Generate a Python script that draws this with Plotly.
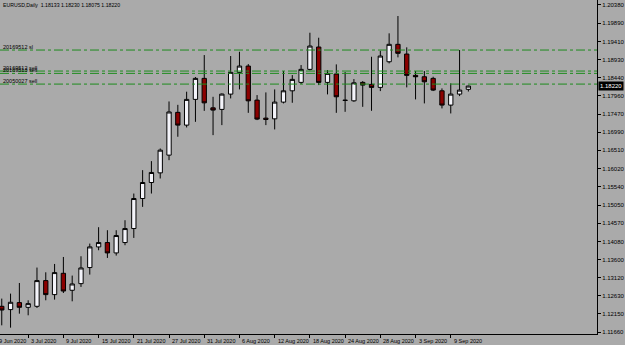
import plotly.graph_objects as go

# ---- data (EURUSD daily) ----
dates = ["30 Jun", "1 Jul", "2 Jul", "3 Jul", "6 Jul", "7 Jul", "8 Jul", "9 Jul", "10 Jul",
         "13 Jul", "14 Jul", "15 Jul", "16 Jul", "17 Jul", "20 Jul", "21 Jul", "22 Jul", "23 Jul",
         "24 Jul", "27 Jul", "28 Jul", "29 Jul", "30 Jul", "31 Jul", "3 Aug", "4 Aug", "5 Aug",
         "6 Aug", "7 Aug", "10 Aug", "11 Aug", "12 Aug", "13 Aug", "14 Aug", "17 Aug", "18 Aug",
         "19 Aug", "20 Aug", "21 Aug", "24 Aug", "25 Aug", "26 Aug", "27 Aug", "28 Aug", "31 Aug",
         "1 Sep", "2 Sep", "3 Sep", "4 Sep", "7 Sep", "8 Sep", "9 Sep", "10 Sep", "11 Sep"]
opens = [1.12353, 1.12265, 1.12451, 1.12326, 1.12353, 1.13038, 1.12664, 1.13232, 1.12780,
         1.12957, 1.13385, 1.13935, 1.14051, 1.13775, 1.14051, 1.14424, 1.15224, 1.15651,
         1.15908, 1.16380, 1.17520, 1.17180, 1.17865, 1.18425, 1.17640, 1.17598, 1.18006,
         1.18585, 1.18753, 1.17846, 1.17366, 1.17347, 1.17793, 1.18094, 1.18318, 1.18665,
         1.19260, 1.18318, 1.18540, 1.17845, 1.17827, 1.18318, 1.18265, 1.18185, 1.18868,
         1.19332, 1.19073, 1.18505, 1.18468, 1.18425, 1.18094, 1.17713, 1.18006, 1.18133]
highs = [1.12558, 1.12691, 1.12974, 1.12513, 1.13385, 1.13259, 1.13481, 1.13667, 1.13171,
         1.13686, 1.14024, 1.14460, 1.14380, 1.14380, 1.14646, 1.15357, 1.15980, 1.16220,
         1.16558, 1.17810, 1.17720, 1.18070, 1.18460, 1.19046, 1.17934, 1.18024, 1.19020,
         1.19134, 1.18806, 1.17980, 1.18051, 1.18131, 1.18620, 1.18513, 1.18780, 1.19641,
         1.19508, 1.18646, 1.18798, 1.18593, 1.18406, 1.18353, 1.19001, 1.19161, 1.19625,
         1.20086, 1.19252, 1.18620, 1.18620, 1.18469, 1.18158, 1.18291, 1.19180, 1.18230]
lows = [1.11846, 1.11784, 1.12157, 1.12113, 1.12308, 1.12513, 1.12531, 1.12707, 1.12486,
        1.12869, 1.13198, 1.13846, 1.13641, 1.13704, 1.13980, 1.14175, 1.15002, 1.15357,
        1.15758, 1.16246, 1.16870, 1.17118, 1.17267, 1.17560, 1.16913, 1.17180, 1.17891,
        1.18131, 1.17507, 1.17313, 1.17180, 1.17065, 1.17758, 1.17775, 1.18273, 1.18638,
        1.18246, 1.17998, 1.17507, 1.17534, 1.17801, 1.17667, 1.17561, 1.18086, 1.18825,
        1.18985, 1.18185, 1.17865, 1.17758, 1.18087, 1.17625, 1.17491, 1.17953, 1.18075]
closes = [1.12254, 1.12460, 1.12326, 1.12424, 1.13038, 1.12664, 1.13251, 1.12760, 1.12948,
          1.13374, 1.13935, 1.14051, 1.13775, 1.14238, 1.14424, 1.15224, 1.15651, 1.15918,
          1.16513, 1.17530, 1.17180, 1.17865, 1.18425, 1.17773, 1.17580, 1.18006, 1.18585,
          1.18753, 1.17827, 1.17340, 1.17331, 1.17793, 1.18094, 1.18398, 1.18665, 1.19286,
          1.18318, 1.18558, 1.17935, 1.17838, 1.18307, 1.18246, 1.18185, 1.19020, 1.19332,
          1.19092, 1.18505, 1.18468, 1.18334, 1.18113, 1.17713, 1.18006, 1.18113, 1.18220]

# date labels: bar slot (29 Jun = slot 0, first drawn bar 30 Jun = slot 1)
label_slots = [0, 4, 8, 12, 16, 20, 24, 28, 32, 36, 40, 44, 48, 52]
label_texts = ["29 Jun 2020", "3 Jul 2020", "9 Jul 2020", "15 Jul 2020", "21 Jul 2020",
               "27 Jul 2020", "31 Jul 2020", "6 Aug 2020", "12 Aug 2020", "18 Aug 2020",
               "24 Aug 2020", "28 Aug 2020", "3 Sep 2020", "9 Sep 2020"]

price_ticks = [1.20380, 1.19890, 1.19410, 1.18930, 1.18440, 1.17960, 1.17470, 1.16990,
               1.16510, 1.16020, 1.15540, 1.15050, 1.14570, 1.14080, 1.13600, 1.13120,
               1.12630, 1.12150, 1.11660]

order_levels = [1.19180, 1.18620, 1.18558, 1.18273]
order_names = ["20169512 sl", "20169512 sell", "20169513 sell", "20050027 sell"]

title_text = "EURUSD,Daily  1.18133 1.18230 1.18075 1.18220"

# ---- figure ----
FONT = "Liberation Sans"
BG = "#AAAAAA"
xs = list(range(1, len(dates) + 1))
x_range = [0.801, 68.61]
y_range = [1.11615, 1.20513]

fig = go.Figure()
fig.add_trace(go.Candlestick(
    x=xs, open=opens, high=highs, low=lows, close=closes,
    text=dates, hoverinfo="text",
    increasing=dict(line=dict(color="#000000", width=1), fillcolor="#F4F4FA"),
    decreasing=dict(line=dict(color="#000000", width=1), fillcolor="#8B0000"),
    whiskerwidth=0,
))

for lvl, name in zip(order_levels, order_names):
    fig.add_shape(type="line", xref="paper", yref="y", x0=0, x1=1, y0=lvl, y1=lvl,
                  line=dict(color="#1E8C1E", width=1, dash="dashdot"), layer="above")
    fig.add_annotation(xref="paper", yref="y", x=0, y=lvl, text=name, showarrow=False,
                       xanchor="left", yanchor="bottom", xshift=1, yshift=-2,
                       font=dict(family=FONT, size=5.5, color="#000000"))

span = x_range[1] - x_range[0]
for s, t in zip(label_slots, label_texts):
    fig.add_annotation(xref="paper", yref="paper", x=(s - x_range[0]) / span, y=0,
                       text=t, showarrow=False, xanchor="left", yanchor="top",
                       xshift=1, yshift=-2,
                       font=dict(family=FONT, size=5.5, color="#000000"))

fig.add_annotation(xref="paper", yref="paper", x=0, y=1, text=title_text, showarrow=False,
                   xanchor="left", yanchor="top", xshift=1, yshift=0,
                   font=dict(family=FONT, size=5.2, color="#000000"))

fig.add_annotation(xref="paper", yref="y", x=1, y=closes[-1], text=f"{closes[-1]:.5f}",
                   showarrow=False, xanchor="left", yanchor="middle", xshift=1,
                   bgcolor="#000000", borderpad=1,
                   font=dict(family=FONT, size=6, color="#FFFFFF"))

fig.update_layout(
    width=625, height=345,
    margin=dict(l=0, r=25, t=0, b=11),
    paper_bgcolor=BG, plot_bgcolor=BG,
    showlegend=False,
    xaxis=dict(range=x_range, showgrid=False, zeroline=False, showline=True,
               linecolor="#000000", linewidth=1, ticks="outside", ticklen=3,
               tickcolor="#000000", tickvals=label_slots, showticklabels=False,
               rangeslider=dict(visible=False), fixedrange=True),
    yaxis=dict(range=y_range, side="right", showgrid=False, zeroline=False, showline=True,
               linecolor="#000000", linewidth=1, ticks="outside", ticklen=3,
               tickcolor="#000000", tickvals=price_ticks,
               ticktext=[f"{v:.5f}" for v in price_ticks],
               tickfont=dict(family=FONT, size=6, color="#000000"), fixedrange=True),
)

fig.write_html("out.html")
